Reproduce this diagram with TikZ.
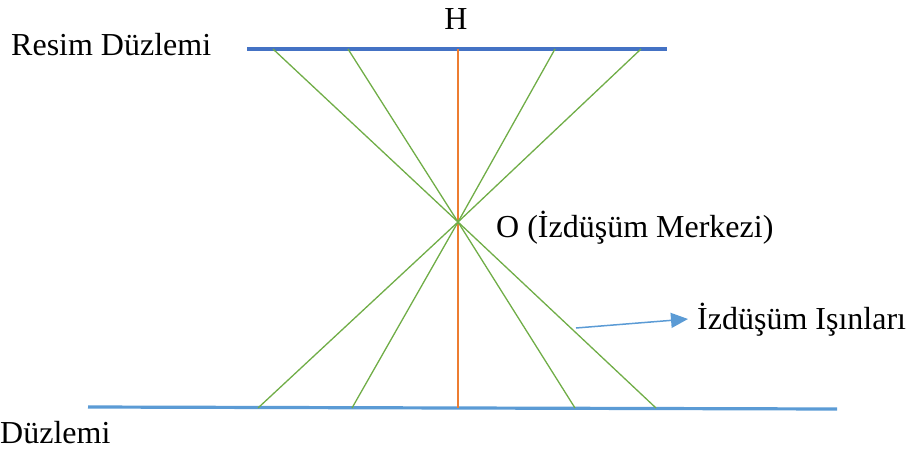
\documentclass[tikz,border=0pt]{standalone}
\usepackage{fontspec}
\usetikzlibrary{arrows.meta}
\setmainfont{Liberation Serif}
\definecolor{planeblue}{HTML}{4472C4}
\definecolor{planeblue2}{HTML}{5B9BD5}
\definecolor{raygreen}{HTML}{70AD47}
\definecolor{axisorange}{HTML}{ED7D31}
\begin{document}
\begin{tikzpicture}[x=1pt,y=-1pt,
  lbl/.style={inner sep=0pt,font=\fontsize{32}{38}\selectfont},
  plane/.style={line width=3.2pt},
  ray/.style={draw=raygreen,line width=1.3pt}]
\useasboundingbox (0,0) rectangle (909,453);
% planes
\coordinate (pl1) at (247,49);
\coordinate (pr1) at (667,49);
\coordinate (pl2) at (88,407);
\coordinate (pr2) at (837,409);
\draw[plane,draw=planeblue] (pl1) -- (pr1);
\draw[plane,draw=planeblue2] (pl2) -- (pr2);
% centre
\coordinate (O) at (458,222);
\coordinate (Htop) at (458,49);
\coordinate (Hbot) at (458,408);
\draw[draw=axisorange,line width=1.3pt] (Htop) -- (Hbot);
% rays
\coordinate (t1) at (273,49);
\coordinate (t2) at (348,49);
\coordinate (t3) at (555,49);
\coordinate (t4) at (641,49);
\coordinate (b1) at (656,408);
\coordinate (b2) at (575,408);
\coordinate (b3) at (352,408);
\coordinate (b4) at (258,408);
\draw[ray] (t1) -- (O) -- (b1);
\draw[ray] (t2) -- (O) -- (b2);
\draw[ray] (t3) -- (O) -- (b3);
\draw[ray] (t4) -- (O) -- (b4);
% labels
\node[lbl,anchor=base west] (resim) at (11,55) {Resim Düzlemi};
\node[lbl,anchor=base] (H) at (456,29) {H};
\node[lbl,anchor=base west] (Olbl) at (496,237) {O (İzdüşüm Merkezi)};
\node[lbl,anchor=base west] (isin) at (697,329) {İzdüşüm Işınları};
\node[lbl,anchor=base west] (duz) at (0,443) {Düzlemi};
% arrow
\coordinate (as) at (576,328);
\coordinate (ae) at (688,319);
\draw[draw=planeblue2,line width=1.5pt,-{Triangle[length=17pt,width=15pt]}] (as) -- (ae);
\end{tikzpicture}
\end{document}
